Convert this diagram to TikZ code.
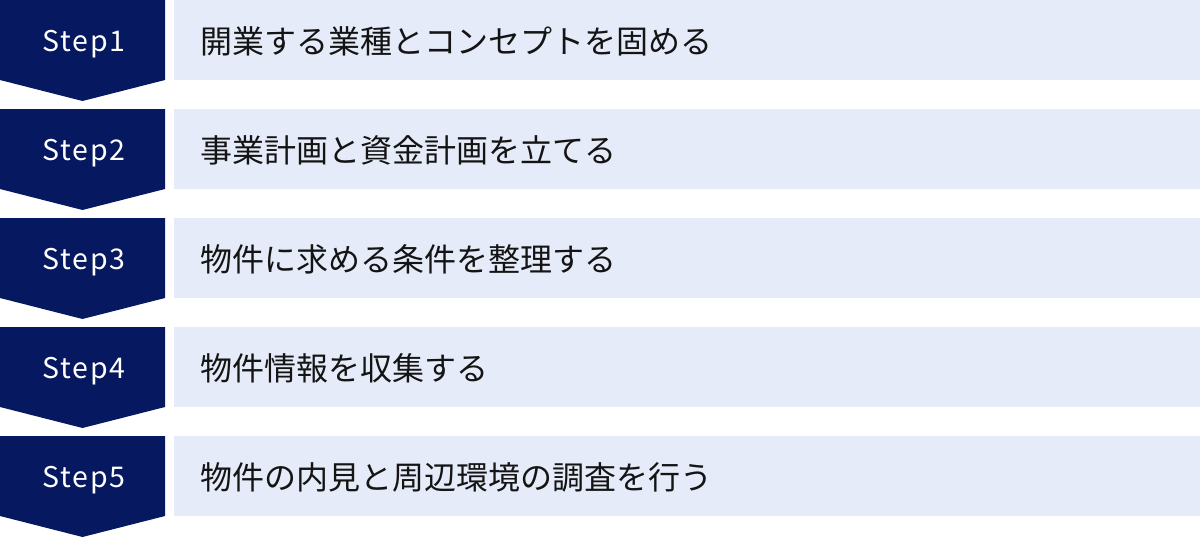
\documentclass[tikz,border=0pt]{standalone}
\usepackage{fontspec}
\usepackage{tikz}
\usetikzlibrary{positioning}
\newfontfamily\jpfont{Noto Sans CJK JP}
\newfontfamily\stepfont[LetterSpace=6]{Noto Sans CJK JP}
\definecolor{navy}{RGB}{6,24,96}
\definecolor{paleblue}{RGB}{229,235,248}
\definecolor{inkgray}{RGB}{20,20,20}
\tikzset{x=1pt,y=-1pt}
\tikzset{stepshape/.style={fill=navy,draw=none}}
\tikzset{steplabel/.style={text=white,font=\stepfont\fontsize{28.5}{32}\selectfont,inner sep=0pt,anchor=base}}
\tikzset{textbox/.style={fill=paleblue,anchor=north west,inner sep=0pt,minimum width=1026pt,minimum height=80pt}}
\tikzset{tasktext/.style={text=inkgray,font=\jpfont\fontsize{32}{36}\selectfont,anchor=west,inner sep=0pt}}

\begin{document}
\begin{tikzpicture}
  \useasboundingbox (0,0) rectangle (1200,538);

  % Step 1
  \fill[stepshape] (0,0) -- (165,0) -- (165,80) -- (82.5,101) -- (0,80) -- cycle;
  \node[steplabel] (s1) at (84,51) {Step1};
  \node[textbox] (b1) at (174,0) {};
  \node[tasktext] (t1) at (200,41) {開業する業種とコンセプトを固める};

  % Step 2
  \fill[stepshape] (0,109) -- (165,109) -- (165,189) -- (82.5,210) -- (0,189) -- cycle;
  \node[steplabel] (s2) at (84,160) {Step2};
  \node[textbox] (b2) at (174,109) {};
  \node[tasktext] (t2) at (200,150) {事業計画と資金計画を立てる};

  % Step 3
  \fill[stepshape] (0,218) -- (165,218) -- (165,298) -- (82.5,319) -- (0,298) -- cycle;
  \node[steplabel] (s3) at (84,269) {Step3};
  \node[textbox] (b3) at (174,218) {};
  \node[tasktext] (t3) at (200,259) {物件に求める条件を整理する};

  % Step 4
  \fill[stepshape] (0,327) -- (165,327) -- (165,407) -- (82.5,428) -- (0,407) -- cycle;
  \node[steplabel] (s4) at (84,378) {Step4};
  \node[textbox] (b4) at (174,327) {};
  \node[tasktext] (t4) at (200,368) {物件情報を収集する};

  % Step 5
  \fill[stepshape] (0,436) -- (165,436) -- (165,516) -- (82.5,537) -- (0,516) -- cycle;
  \node[steplabel] (s5) at (84,487) {Step5};
  \node[textbox] (b5) at (174,436) {};
  \node[tasktext] (t5) at (200,477) {物件の内見と周辺環境の調査を行う};
\end{tikzpicture}
\end{document}
